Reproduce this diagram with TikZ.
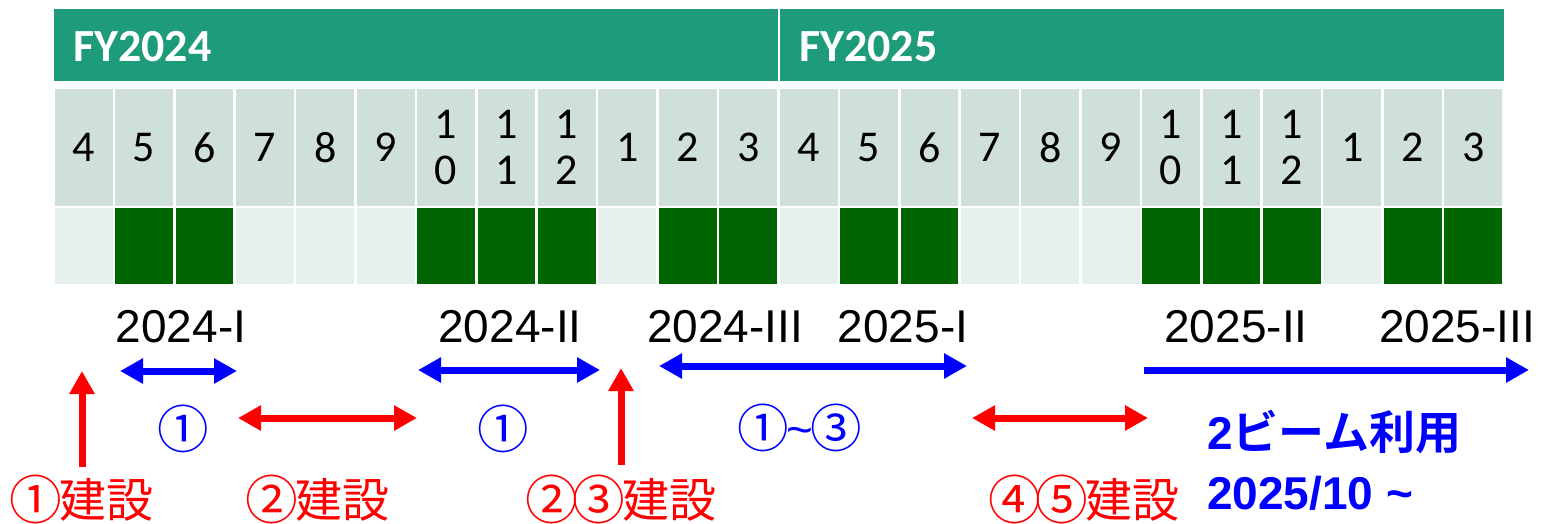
\documentclass[tikz,border=0pt]{standalone}
\usepackage{fontspec}
\usepackage{graphicx}
\setmainfont{Liberation Sans}
\newfontfamily\cjk{Noto Sans CJK JP}[BoldFont={Noto Sans CJK JP Bold}]
\newfontfamily\calfont{Carlito}
\newfontfamily\tildefont{Liberation Sans}
\usetikzlibrary{arrows.meta}
\newcommand\cnum[1]{\makebox[1em][c]{\raisebox{-0.04em}{\scalebox{1.12}{#1}}}}
\definecolor{hdr}{RGB}{30,155,122}
\definecolor{monthbg}{RGB}{207,224,216}
\definecolor{lightbg}{RGB}{229,239,235}
\definecolor{darkbg}{RGB}{0,100,0}
\definecolor{myblue}{RGB}{0,0,255}
\definecolor{myred}{RGB}{255,0,0}
\tikzset{
  hdrbox/.style={fill=hdr, draw=none, minimum width=724pt, minimum height=72pt, inner sep=0pt},
  fytext/.style={text=white, font=\calfont\bfseries\fontsize{46}{50}\selectfont, anchor=west, inner sep=0pt},
  monthcell/.style={fill=monthbg, draw=none, minimum width=57.8pt, minimum height=117pt, inner sep=0pt, align=center, font=\calfont\fontsize{44}{46}\selectfont},
  lightcell/.style={fill=lightbg, draw=none, minimum width=57.8pt, minimum height=75.5pt, inner sep=0pt},
  darkcell/.style={fill=darkbg, draw=none, minimum width=57.8pt, minimum height=75.5pt, inner sep=0pt},
  termlabel/.style={font=\fontsize{46}{50}\selectfont, inner sep=0pt},
  bluelabel/.style={text=myblue, font=\cjk\fontsize{46}{50}\selectfont, inner sep=0pt},
  redlabel/.style={text=myred, font=\cjk\fontsize{47}{50}\selectfont, inner sep=0pt},
  beamlabel/.style={text=myblue, font=\bfseries\fontsize{46}{50}\selectfont, anchor=west, inner sep=0pt},
  bluearrow/.style={draw=myblue, line width=7pt, {Triangle[length=23pt,width=24pt]}-{Triangle[length=23pt,width=24pt]}},
  bluearrowone/.style={draw=myblue, line width=7pt, -{Triangle[length=23pt,width=24pt]}},
  redarrow/.style={draw=myred, line width=7pt, {Triangle[length=23pt,width=24pt]}-{Triangle[length=23pt,width=24pt]}},
  redarrowone/.style={draw=myred, line width=7pt, -{Triangle[length=23pt,width=24pt]}},
}
\begin{document}
\begin{tikzpicture}[x=1pt,y=-1pt]
\useasboundingbox (0,0) rectangle (1542,523);
% header
\node[hdrbox] (fy24) at (416,45) {};
\node[hdrbox] (fy25) at (1142,45) {};
\node[fytext] (fy24t) at (73,47) {FY2024};
\node[fytext] (fy25t) at (799,47) {FY2025};
% month row
\foreach \i/\lab in {0/4,1/5,2/6,3/7,4/8,5/9,6/{1\\0},7/{1\\1},8/{1\\2},9/1,10/2,11/3,
                     12/4,13/5,14/6,15/7,16/8,17/9,18/{1\\0},19/{1\\1},20/{1\\2},21/1,22/2,23/3}{
  \node[monthcell] (m\i) at ({54+(\i+0.5)*60.4167-0.6},147.5) {\lab};
}
% usage row
\foreach \i in {0,3,4,5,9,12,15,16,17,21}{
  \node[lightcell] (d\i) at ({54+(\i+0.5)*60.4167-0.6},246.2) {};
}
\foreach \i in {1,2,6,7,8,10,11,13,14,18,19,20,22,23}{
  \node[darkcell] (d\i) at ({54+(\i+0.5)*60.4167-0.6},246.2) {};
}
% term labels
\node[termlabel] (t1) at (181,327) {2024-I};
\node[termlabel] (t2) at (510,327) {2024-II};
\node[termlabel] (t3) at (725,327) {2024-III};
\node[termlabel] (t4) at (903,327) {2025-I};
\node[termlabel] (t5) at (1236,327) {2025-II};
\node[termlabel] (t6) at (1457,327) {2025-III};
% arrow end points
\coordinate (a1l) at (120,371); \coordinate (a1r) at (237,371);
\coordinate (a2l) at (418,370); \coordinate (a2r) at (600,370);
\coordinate (a3l) at (659,366); \coordinate (a3r) at (967,366);
\coordinate (a4l) at (1144,370); \coordinate (a4r) at (1529,370);
\coordinate (u1b) at (82,467); \coordinate (u1t) at (82,371);
\coordinate (u2b) at (621,465); \coordinate (u2t) at (621,368);
\coordinate (r1l) at (238,418); \coordinate (r1r) at (417,418);
\coordinate (r2l) at (972,418); \coordinate (r2r) at (1148,418);
\draw[bluearrow] (a1l) -- (a1r);
\draw[bluearrow] (a2l) -- (a2r);
\draw[bluearrow] (a3l) -- (a3r);
\draw[bluearrowone] (a4l) -- (a4r);
\draw[redarrowone] (u1b) -- (u1t);
\draw[redarrowone] (u2b) -- (u2t);
\draw[redarrow] (r1l) -- (r1r);
\draw[redarrow] (r2l) -- (r2r);
% blue labels
\node[bluelabel] (b1) at (183,429) {\cnum{①}};
\node[bluelabel] (b2) at (503,429) {\cnum{①}};
\node[bluelabel] (b3) at (800,428) {\cnum{①}{\tildefont\char"7E}\cnum{③}};
% red labels
\node[redlabel] (c1) at (83,499) {\cnum{①}建設};
\node[redlabel] (c2) at (319,499) {\cnum{②}建設};
\node[redlabel] (c3) at (622,499) {\cnum{②}\cnum{③}建設};
\node[redlabel] (c4) at (1085,499) {\cnum{④}\cnum{⑤}建設};
% beam labels
\node[beamlabel] (beam1) at (1207,432) {2{\cjk\bfseries ビーム利用}};
\node[beamlabel] (beam2) at (1207,493) {2025/10 \char"7E};
\end{tikzpicture}
\end{document}
